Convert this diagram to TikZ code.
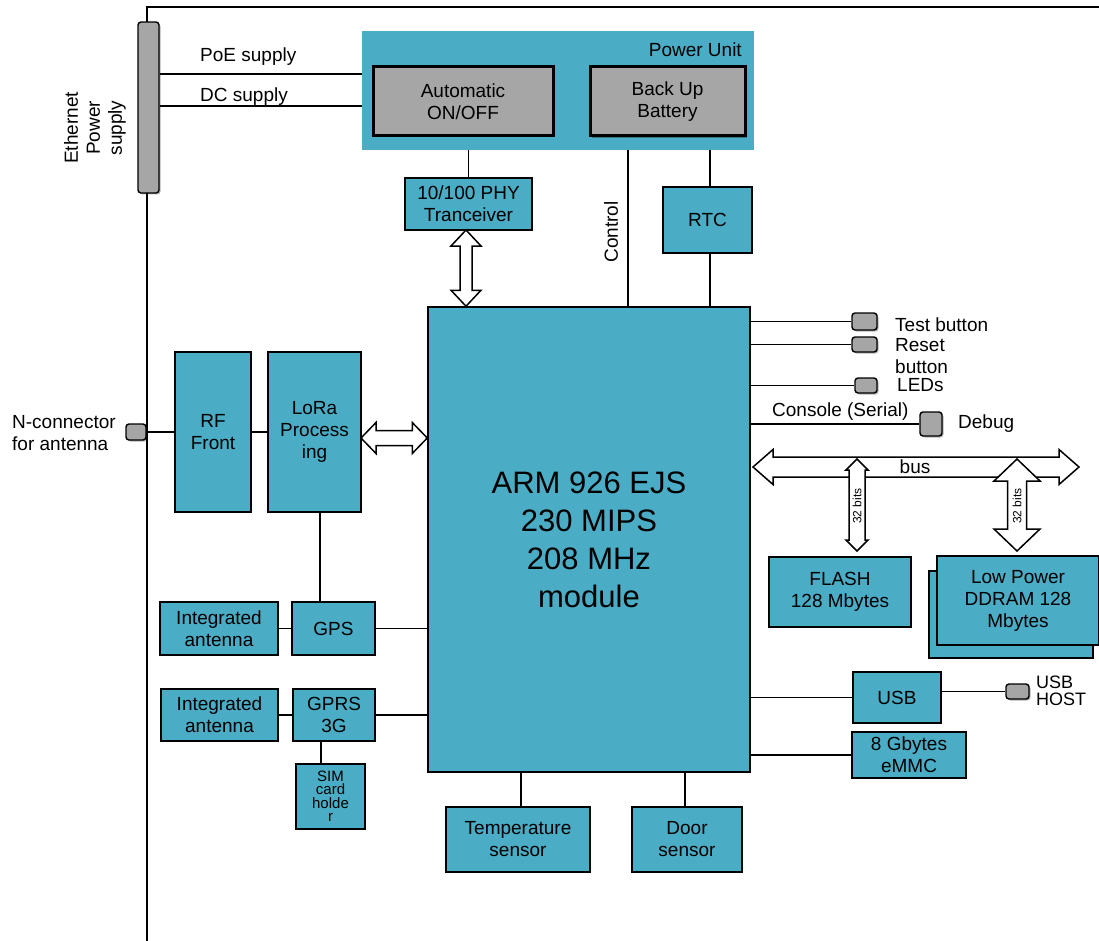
\documentclass[tikz,border=0pt]{standalone}
\usepackage{fontspec}
\setmainfont{Liberation Sans}
\usetikzlibrary{calc,shadows}
\definecolor{tealbox}{HTML}{4BACC6}
\definecolor{graybox}{HTML}{A6A6A6}
\newcommand\vdarrow[5]{%
  \draw[dblarr] let \p1=#1, \p2=#2 in
    (\x1,\y1) -- (\x1+#4pt,\y1-#5pt) -- (\x1+#3pt,\y1-#5pt) -- (\x1+#3pt,\y2+#5pt)
    -- (\x1+#4pt,\y2+#5pt) -- (\x1,\y2) -- (\x1-#4pt,\y2+#5pt) -- (\x1-#3pt,\y2+#5pt)
    -- (\x1-#3pt,\y1-#5pt) -- (\x1-#4pt,\y1-#5pt) -- cycle;}
\newcommand\hdarrow[5]{%
  \draw[dblarr] let \p1=#1, \p2=#2 in
    (\x1,\y1) -- (\x1+#5pt,\y1+#4pt) -- (\x1+#5pt,\y1+#3pt) -- (\x2-#5pt,\y1+#3pt)
    -- (\x2-#5pt,\y1+#4pt) -- (\x2,\y1) -- (\x2-#5pt,\y1-#4pt) -- (\x2-#5pt,\y1-#3pt)
    -- (\x1+#5pt,\y1-#3pt) -- (\x1+#5pt,\y1-#4pt) -- cycle;}
\tikzset{
  txt/.style={font=\fontsize{19}{22}\selectfont},
  blk/.style={draw=black, fill=tealbox, line width=1.5pt, inner sep=0pt, align=center, txt},
  gbox/.style={draw=black, fill=graybox, line width=3pt, inner sep=0pt, align=center, txt},
  conn/.style={draw=black, fill=graybox, line width=1.4pt, rounded corners=3pt, inner sep=0pt,
    drop shadow={shadow xshift=1.5pt, shadow yshift=-1.5pt, opacity=0.3, fill=black}},
  wire/.style={line width=1.5pt},
  lbl/.style={inner sep=0pt, txt},
  dblarr/.style={draw=black, fill=white, line width=1.5pt, line join=miter},
}
\begin{document}
\begin{tikzpicture}[x=1pt, y=-1pt]
\useasboundingbox (0,0) rectangle (1099,941);
% border
\coordinate (bb) at (147,941);
\coordinate (bt) at (147,7);
\coordinate (br) at (1099,7);
\draw[wire] (bb) -- (bt) -- (br);

% Ethernet power supply bar
\node[conn, minimum width=21pt, minimum height=171pt] (eth) at (148.5,107.5) {};
\node[lbl, rotate=90, align=center] (ethl) at (95,128) {Ethernet\\Power\\supply};

% Power unit
\node[fill=tealbox, minimum width=392pt, minimum height=119pt, inner sep=0pt] (pu) at (558,90.5) {};
\node[lbl, anchor=east] (pul) at (742,50) {Power Unit};
\node[gbox, minimum width=180pt, minimum height=69pt] (auto) at (463,101.5) {Automatic\\ON/OFF};
\node[gbox, minimum width=155pt, minimum height=69pt,
  drop shadow={shadow xshift=2pt, shadow yshift=-2pt, opacity=0.3, fill=black}] (batt) at (667.5,101.5) {Back Up\\Battery};

\draw[wire] (eth.east |- 0,74) -- (pu.west |- 0,74);
\draw[wire] (eth.east |- 0,106) -- (pu.west |- 0,106);
\node[lbl, anchor=west] (poel) at (200,57) {PoE supply};
\node[lbl, anchor=west] (dcl) at (200,97) {DC supply};

% PHY, RTC, control
\node[blk, minimum width=127pt, minimum height=52pt] (phy) at (468.5,204) {10/100 PHY\\Tranceiver};
\node[blk, minimum width=89pt, minimum height=66pt] (rtc) at (707.5,220) {RTC};
\node[blk, minimum width=322pt, minimum height=465pt, font=\fontsize{31}{38}\selectfont] (arm) at (589,539.5) {ARM 926 EJS\\230 MIPS\\208 MHz\\module};

\draw[wire] (phy.north) -- (phy.north |- pu.south);
\draw[wire] (pu.south -| 628,0) -- (arm.north -| 628,0);
\node[lbl, rotate=90] (ctl) at (611,232) {Control};
\draw[wire] (rtc.north -| 710,0) -- (pu.south -| 710,0);
\draw[wire] (rtc.south -| 710,0) -- (arm.north -| 710,0);
\coordinate (phyarr) at (466,230);
\vdarrow{(phyarr)}{(arm.north)}{6}{15}{16}

% left side
\node[conn, minimum width=20pt, minimum height=16pt] (ncon) at (136,432) {};
\node[lbl, anchor=west, align=left] (nconl) at (12,433.5) {N-connector\\for antenna};
\node[blk, minimum width=76pt, minimum height=160pt] (rf) at (213,432) {RF\\Front};
\node[blk, minimum width=93pt, minimum height=160pt] (lora) at (314.5,432) {LoRa\\Process\\ing};
\draw[wire] (ncon.east) -- (rf.west);
\draw[wire] (rf.east) -- (lora.west);
\coordinate (loraarr) at (361,438);
\hdarrow{(loraarr)}{(arm.west)}{7.5}{15.5}{15}

\node[blk, minimum width=83pt, minimum height=53pt] (gps) at (333.5,628.5) {GPS};
\node[blk, minimum width=118pt, minimum height=53pt] (ant1) at (219,628.5) {Integrated\\antenna};
\node[blk, minimum width=82pt, minimum height=52pt] (gprs) at (334,715) {GPRS\\3G};
\node[blk, minimum width=117pt, minimum height=52pt] (ant2) at (219.5,715) {Integrated\\antenna};
\node[blk, minimum width=69pt, minimum height=65pt, font=\fontsize{15}{13.5}\selectfont] (sim) at (330.5,796.5) {SIM\\card\\holde\\r};
\draw[wire] (lora.south -| 320,0) -- (gps.north -| 320,0);
\draw[wire] (ant1.east) -- (gps.west);
\draw[wire] (gps.east) -- (gps.east -| arm.west);
\draw[wire] (ant2.east) -- (gprs.west);
\draw[wire] (gprs.east) -- (gprs.east -| arm.west);
\draw[wire] (gprs.south -| 321,0) -- (sim.north -| 321,0);

% bottom sensors
\node[blk, minimum width=144pt, minimum height=65pt] (temp) at (518,839.5) {Temperature\\sensor};
\node[blk, minimum width=110pt, minimum height=65pt] (door) at (687,839.5) {Door\\sensor};
\draw[wire] (temp.north -| 521,0) -- (arm.south -| 521,0);
\draw[wire] (door.north -| 685,0) -- (arm.south -| 685,0);

% right side connectors
\node[conn, minimum width=25pt, minimum height=17pt] (test) at (864.5,321.5) {};
\node[conn, minimum width=25pt, minimum height=15pt] (reset) at (864.5,344.5) {};
\node[conn, minimum width=22pt, minimum height=15pt] (leds) at (866,385.5) {};
\node[conn, minimum width=22pt, minimum height=24pt] (debug) at (931,424) {};
\draw[wire] (arm.east |- test) -- (test.west);
\draw[wire] (arm.east |- reset) -- (reset.west);
\draw[wire] (arm.east |- leds) -- (leds.west);
\draw[wire] (arm.east |- debug) -- (debug.west);
\node[lbl, anchor=west] (testl) at (895,325) {Test button};
\node[lbl, anchor=west, align=left] (resetl) at (895,356) {Reset\\button};
\node[lbl, anchor=west] (ledsl) at (897,385) {LEDs};
\node[lbl, anchor=west] (consl) at (772,412) {Console (Serial)};
\node[lbl, anchor=west] (debugl) at (958,424) {Debug};

% memories
\node[blk, minimum width=142pt, minimum height=70pt] (flash) at (840,592) {FLASH\\128 Mbytes};
\node[blk, minimum width=164pt, minimum height=87pt] (ddrb) at (1011,614.5) {};
\node[blk, minimum width=162pt, minimum height=89pt] (ddr) at (1018,600.5) {Low Power\\DDRAM 128\\Mbytes};

% bus
\coordinate (busL) at (753,467);
\coordinate (busR) at (1079,467);
\hdarrow{(busL)}{(busR)}{10}{17.5}{20}
\node[lbl] (busl) at (915,467) {bus};
\coordinate (flt) at (857,459);
\coordinate (flb) at (857,551);
\vdarrow{(flt)}{(flb)}{8}{11}{11}
\coordinate (ddt) at (1017,459);
\coordinate (ddbt) at (1017,551);
\vdarrow{(ddt)}{(ddbt)}{9.5}{23}{22}
\node[inner sep=0pt, rotate=90, font=\fontsize{12}{12}\selectfont] (b1) at (857,506) {32 bits};
\node[inner sep=0pt, rotate=90, font=\fontsize{12}{12}\selectfont] (b2) at (1017,506) {32 bits};

% USB, eMMC
\node[blk, minimum width=88pt, minimum height=51pt] (usb) at (897,697.5) {USB};
\node[blk, minimum width=114pt, minimum height=46pt] (emmc) at (909,755) {8 Gbytes\\eMMC};
\node[conn, minimum width=23pt, minimum height=15pt] (usbh) at (1017.5,691.5) {};
\node[lbl, anchor=west, align=left, font=\fontsize{18}{17}\selectfont] (usbhl) at (1036,691) {USB\\HOST};
\draw[wire] (arm.east |- usb) -- (usb.west);
\draw[wire] (usbh.west -| usb.east) -- (usbh.west);
\draw[wire] (arm.east |- emmc) -- (emmc.west);
\end{tikzpicture}
\end{document}
